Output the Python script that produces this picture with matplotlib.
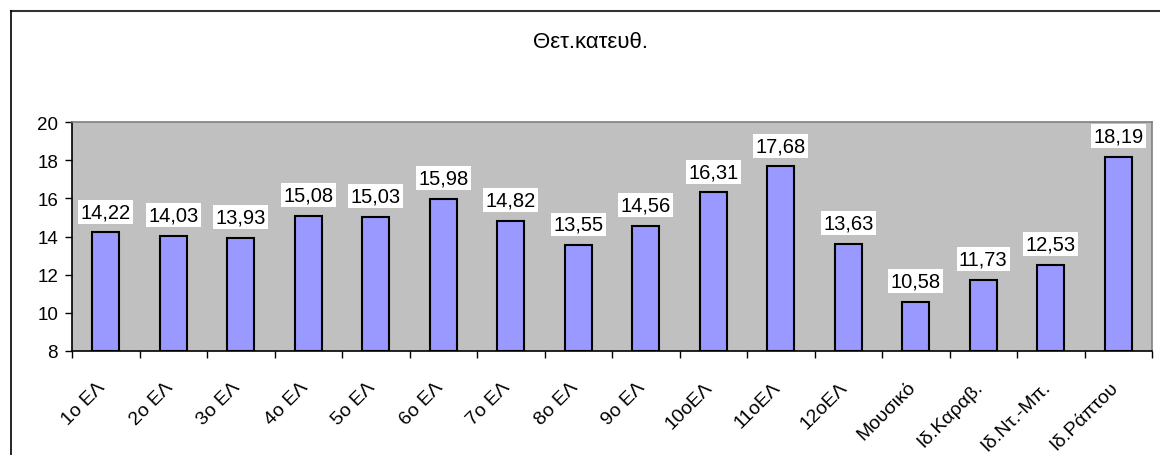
import matplotlib
matplotlib.use("Agg")
import matplotlib.pyplot as plt
from matplotlib.lines import Line2D
from matplotlib.transforms import ScaledTranslation
import numpy as np

categories = ['1ο ΕΛ', '2ο ΕΛ', '3ο ΕΛ', '4ο ΕΛ', '5ο ΕΛ', '6ο ΕΛ', '7ο ΕΛ', '8ο ΕΛ',
              '9ο ΕΛ', '10οΕΛ', '11οΕΛ', '12οΕΛ', 'Μουσικό', 'Ιδ.Καραβ.', 'Ιδ.Ντ.-Μπ.', 'Ιδ.Ράπτου']
values = [14.22, 14.03, 13.93, 15.08, 15.03, 15.98, 14.82, 13.55,
          14.56, 16.31, 17.68, 13.63, 10.58, 11.73, 12.53, 18.19]
title = 'Θετ.κατευθ.'
y_ticks = [8, 10, 12, 14, 16, 18, 20]

plt.rcParams['font.family'] = ['Liberation Sans', 'DejaVu Sans']

W, H = 1160, 456
fig = plt.figure(figsize=(W / 100, H / 100), dpi=100)
ax = fig.add_axes([72 / W, 1 - 352 / H, 1080 / W, 229 / H])
ax.set_facecolor('#C0C0C0')

x = np.arange(len(categories))
ax.bar(x, [v - 8 for v in values], bottom=8, width=0.4, color='#9999FF',
       edgecolor='black', linewidth=1.5, zorder=3)
ax.set_xlim(-0.5, len(categories) - 0.5)
ax.set_ylim(8, 20)
ax.set_yticks(y_ticks)
ax.set_yticklabels([str(t) for t in y_ticks], fontsize=13.5)
ax.tick_params(axis='y', direction='out', length=5, width=1, pad=5)

# x ticks at category boundaries, labels at centers
ax.set_xticks(np.arange(len(categories) + 1) - 0.5)
ax.set_xticklabels([])
ax.set_xticks(x, minor=True)
ax.set_xticklabels(categories, minor=True, rotation=45, ha='right', va='center',
                   rotation_mode='anchor', fontsize=14)
ax.tick_params(axis='x', which='major', direction='out', length=5, width=1)
ax.tick_params(axis='x', which='minor', length=0, pad=24)
shift = ScaledTranslation(-3 / 100, 0, fig.dpi_scale_trans)
for lbl in ax.get_xticklabels(minor=True):
    lbl.set_transform(lbl.get_transform() + shift)

for s in ['top', 'right']:
    ax.spines[s].set_color('#808080')
    ax.spines[s].set_linewidth(1.2)
for s in ['left', 'bottom']:
    ax.spines[s].set_color('black')
    ax.spines[s].set_linewidth(1.2)

for xi, v in zip(x, values):
    ax.annotate(f'{v:.2f}'.replace('.', ','), (xi, v), xytext=(0, 8), textcoords='offset points',
                ha='center', va='bottom', fontsize=14.5,
                bbox=dict(boxstyle='square,pad=0.12', facecolor='white', edgecolor='none'),
                zorder=4)

fig.text(591 / W, 1 - 42 / H, title, ha='center', va='center', fontsize=16)

# outer chart frame
fig.add_artist(Line2D([11 / W, 1.0], [1 - 12 / H, 1 - 12 / H], transform=fig.transFigure,
                      color='#333333', linewidth=1.5))
fig.add_artist(Line2D([11 / W, 11 / W], [0, 1 - 12 / H], transform=fig.transFigure,
                      color='black', linewidth=1.2))

fig.savefig('out.png', dpi=100)
